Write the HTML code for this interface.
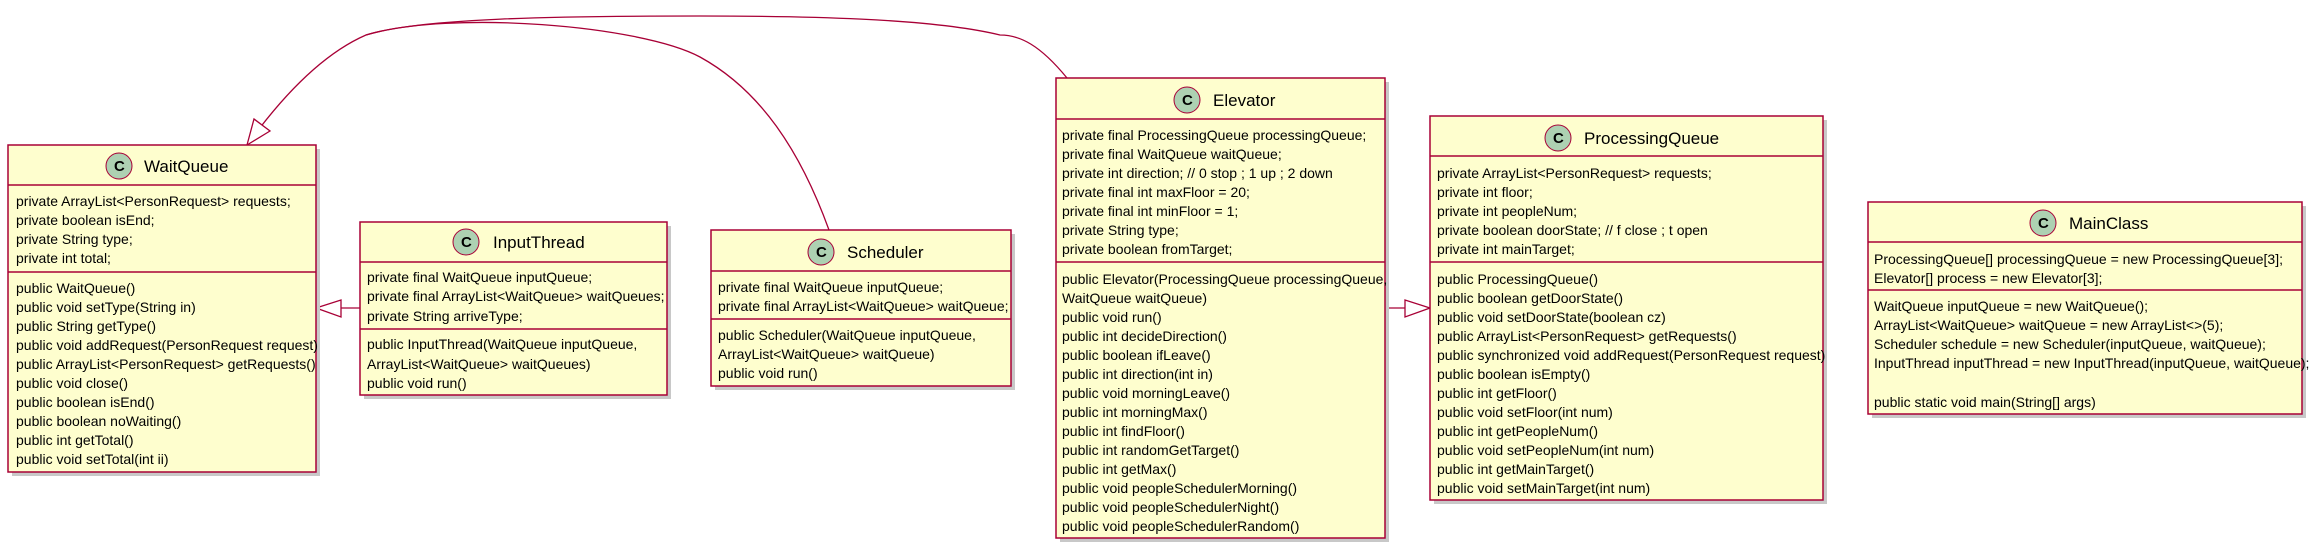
<!DOCTYPE html>
<html><head><meta charset="utf-8"><style>
html,body{margin:0;padding:0;background:#fff;}
svg{display:block;}
text{font-family:"Liberation Sans",sans-serif;font-size:14px;fill:#000;}
.t{font-size:17px;}
.c{font-size:15px;font-weight:bold;}
.box{fill:#FEFECE;stroke:#A80036;stroke-width:1.5;}
.sh{fill:#c8c8c8;}
.ln{stroke:#A80036;stroke-width:1.5;}
.ci{fill:#ADD1B2;stroke:#A80036;stroke-width:1;}
</style></head><body>
<svg width="2318" height="547" viewBox="0 0 2318 547" xmlns="http://www.w3.org/2000/svg">
<!-- connectors -->
<path d="M829,230 C800,150 760,90 700,57 C640,25 450,10 366,35 C320,55 280,100 250,141" fill="none" stroke="#A80036" stroke-width="1.3"/>
<path d="M1067,78 C1040,45 1020,35 1000,35 C930,18 800,16 700,16 C560,16 420,18 366,35" fill="none" stroke="#A80036" stroke-width="1.3"/>
<polygon points="247,145 254,119 270,131" fill="#fff" stroke="#A80036" stroke-width="1.3"/>
<line x1="341" y1="308" x2="360" y2="308" stroke="#A80036" stroke-width="1.3"/>
<polygon points="316,308 341,300 341,317" fill="#fff" stroke="#A80036" stroke-width="1.3"/>
<line x1="1385" y1="308" x2="1405" y2="308" stroke="#A80036" stroke-width="1.3"/>
<polygon points="1430,308 1405,300 1405,317" fill="#fff" stroke="#A80036" stroke-width="1.3"/>

<!-- WaitQueue -->
<rect class="sh" x="12" y="149" width="308" height="327"/>
<rect class="box" x="8" y="145" width="308" height="327"/>
<line class="ln" x1="8" y1="185" x2="316" y2="185"/>
<line class="ln" x1="8" y1="272" x2="316" y2="272"/>
<circle class="ci" cx="119" cy="166" r="13"/><text class="c" x="114" y="171">C</text>
<text class="t" x="144" y="172">WaitQueue</text>
<text x="16" y="206">private ArrayList&lt;PersonRequest&gt; requests;</text>
<text x="16" y="225">private boolean isEnd;</text>
<text x="16" y="244">private String type;</text>
<text x="16" y="263">private int total;</text>
<text x="16" y="293">public WaitQueue()</text>
<text x="16" y="312">public void setType(String in)</text>
<text x="16" y="331">public String getType()</text>
<text x="16" y="350">public void addRequest(PersonRequest request)</text>
<text x="16" y="369">public ArrayList&lt;PersonRequest&gt; getRequests()</text>
<text x="16" y="388">public void close()</text>
<text x="16" y="407">public boolean isEnd()</text>
<text x="16" y="426">public boolean noWaiting()</text>
<text x="16" y="445">public int getTotal()</text>
<text x="16" y="464">public void setTotal(int ii)</text>

<!-- InputThread -->
<rect class="sh" x="364" y="226" width="307" height="173"/>
<rect class="box" x="360" y="222" width="307" height="173"/>
<line class="ln" x1="360" y1="262" x2="667" y2="262"/>
<line class="ln" x1="360" y1="329" x2="667" y2="329"/>
<circle class="ci" cx="466" cy="242" r="13"/><text class="c" x="461" y="247">C</text>
<text class="t" x="493" y="248">InputThread</text>
<text x="367" y="282">private final WaitQueue inputQueue;</text>
<text x="367" y="301">private final ArrayList&lt;WaitQueue&gt; waitQueues;</text>
<text x="367" y="321">private String arriveType;</text>
<text x="367" y="349">public InputThread(WaitQueue inputQueue,</text>
<text x="367" y="369">ArrayList&lt;WaitQueue&gt; waitQueues)</text>
<text x="367" y="388">public void run()</text>

<!-- Scheduler -->
<rect class="sh" x="715" y="234" width="300" height="156"/>
<rect class="box" x="711" y="230" width="300" height="156"/>
<line class="ln" x1="711" y1="271" x2="1011" y2="271"/>
<line class="ln" x1="711" y1="319" x2="1011" y2="319"/>
<circle class="ci" cx="821" cy="252" r="13"/><text class="c" x="816" y="257">C</text>
<text class="t" x="847" y="258">Scheduler</text>
<text x="718" y="292">private final WaitQueue inputQueue;</text>
<text x="718" y="311">private final ArrayList&lt;WaitQueue&gt; waitQueue;</text>
<text x="718" y="340">public Scheduler(WaitQueue inputQueue,</text>
<text x="718" y="359">ArrayList&lt;WaitQueue&gt; waitQueue)</text>
<text x="718" y="378">public void run()</text>

<!-- Elevator -->
<rect class="sh" x="1060" y="82" width="329" height="460"/>
<rect class="box" x="1056" y="78" width="329" height="460"/>
<line class="ln" x1="1056" y1="119" x2="1385" y2="119"/>
<line class="ln" x1="1056" y1="262" x2="1385" y2="262"/>
<circle class="ci" cx="1187" cy="100" r="13"/><text class="c" x="1182" y="105">C</text>
<text class="t" x="1213" y="106">Elevator</text>
<text x="1062" y="140">private final ProcessingQueue processingQueue;</text>
<text x="1062" y="159">private final WaitQueue waitQueue;</text>
<text x="1062" y="178">private int direction;  // 0 stop ; 1 up ; 2 down</text>
<text x="1062" y="197">private final int maxFloor = 20;</text>
<text x="1062" y="216">private final int minFloor = 1;</text>
<text x="1062" y="235">private String type;</text>
<text x="1062" y="254">private boolean fromTarget;</text>
<text x="1062" y="284">public Elevator(ProcessingQueue processingQueue,</text>
<text x="1062" y="303">WaitQueue waitQueue)</text>
<text x="1062" y="322">public void run()</text>
<text x="1062" y="341">public int decideDirection()</text>
<text x="1062" y="360">public boolean ifLeave()</text>
<text x="1062" y="379">public int direction(int in)</text>
<text x="1062" y="398">public void morningLeave()</text>
<text x="1062" y="417">public int morningMax()</text>
<text x="1062" y="436">public int findFloor()</text>
<text x="1062" y="455">public int randomGetTarget()</text>
<text x="1062" y="474">public int getMax()</text>
<text x="1062" y="493">public void peopleSchedulerMorning()</text>
<text x="1062" y="512">public void peopleSchedulerNight()</text>
<text x="1062" y="531">public void peopleSchedulerRandom()</text>

<!-- ProcessingQueue -->
<rect class="sh" x="1434" y="120" width="393" height="384"/>
<rect class="box" x="1430" y="116" width="393" height="384"/>
<line class="ln" x1="1430" y1="156" x2="1823" y2="156"/>
<line class="ln" x1="1430" y1="262" x2="1823" y2="262"/>
<circle class="ci" cx="1558" cy="138" r="13"/><text class="c" x="1553" y="143">C</text>
<text class="t" x="1584" y="144">ProcessingQueue</text>
<text x="1437" y="178">private ArrayList&lt;PersonRequest&gt; requests;</text>
<text x="1437" y="197">private int floor;</text>
<text x="1437" y="216">private int peopleNum;</text>
<text x="1437" y="235">private boolean doorState;  // f close ; t open</text>
<text x="1437" y="254">private int mainTarget;</text>
<text x="1437" y="284">public ProcessingQueue()</text>
<text x="1437" y="303">public boolean getDoorState()</text>
<text x="1437" y="322">public void setDoorState(boolean cz)</text>
<text x="1437" y="341">public ArrayList&lt;PersonRequest&gt; getRequests()</text>
<text x="1437" y="360">public synchronized void addRequest(PersonRequest request)</text>
<text x="1437" y="379">public boolean isEmpty()</text>
<text x="1437" y="398">public int getFloor()</text>
<text x="1437" y="417">public void setFloor(int num)</text>
<text x="1437" y="436">public int getPeopleNum()</text>
<text x="1437" y="455">public void setPeopleNum(int num)</text>
<text x="1437" y="474">public int getMainTarget()</text>
<text x="1437" y="493">public void setMainTarget(int num)</text>

<!-- MainClass -->
<rect class="sh" x="1872" y="206" width="434" height="212"/>
<rect class="box" x="1868" y="202" width="434" height="212"/>
<line class="ln" x1="1868" y1="242" x2="2302" y2="242"/>
<line class="ln" x1="1868" y1="290" x2="2302" y2="290"/>
<circle class="ci" cx="2043" cy="223" r="13"/><text class="c" x="2038" y="228">C</text>
<text class="t" x="2069" y="229">MainClass</text>
<text x="1874" y="264">ProcessingQueue[] processingQueue = new ProcessingQueue[3];</text>
<text x="1874" y="283">Elevator[] process = new Elevator[3];</text>
<text x="1874" y="311">WaitQueue inputQueue = new WaitQueue();</text>
<text x="1874" y="330">ArrayList&lt;WaitQueue&gt; waitQueue = new ArrayList&lt;&gt;(5);</text>
<text x="1874" y="349">Scheduler schedule = new Scheduler(inputQueue, waitQueue);</text>
<text x="1874" y="368">InputThread inputThread = new InputThread(inputQueue, waitQueue);</text>
<text x="1874" y="407">public static void main(String[] args)</text>
</svg>
</body></html>
